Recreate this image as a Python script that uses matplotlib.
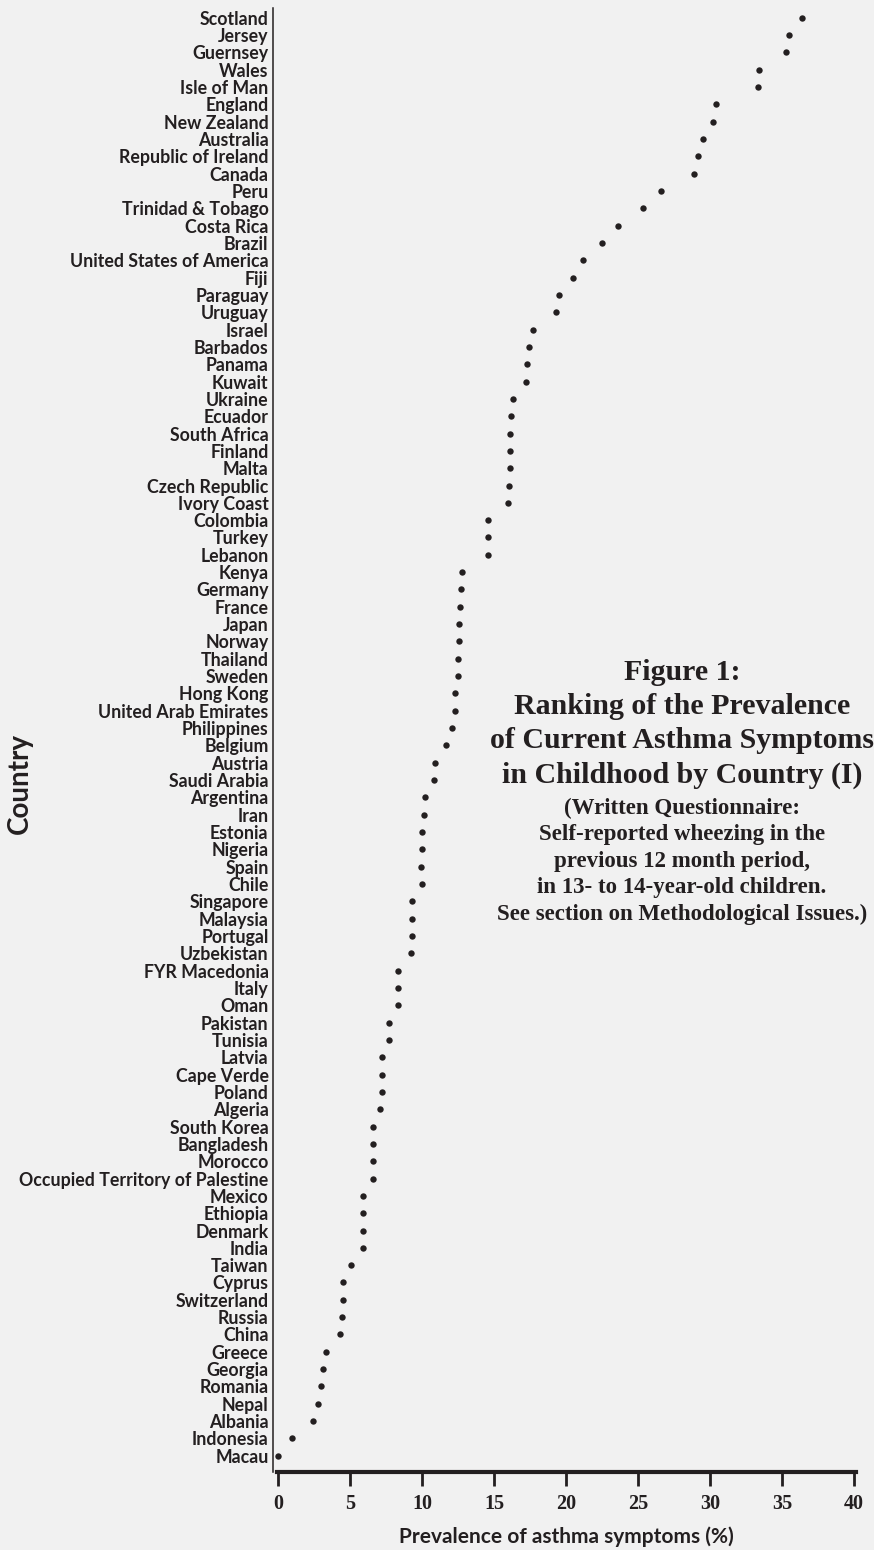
from matplotlib import pyplot as plt

countries = [
    'Scotland', 'Jersey', 'Guernsey', 'Wales', 'Isle of Man', 'England',
    'New Zealand', 'Australia', 'Republic of Ireland', 'Canada', 'Peru',
    'Trinidad & Tobago', 'Costa Rica', 'Brazil', 'United States of America',
    'Fiji', 'Paraguay', 'Uruguay', 'Israel', 'Barbados', 'Panama', 'Kuwait',
    'Ukraine', 'Ecuador', 'South Africa', 'Finland', 'Malta', 'Czech Republic',
    'Ivory Coast', 'Colombia', 'Turkey', 'Lebanon', 'Kenya', 'Germany',
    'France', 'Japan', 'Norway', 'Thailand', 'Sweden', 'Hong Kong',
    'United Arab Emirates', 'Philippines', 'Belgium', 'Austria',
    'Saudi Arabia', 'Argentina', 'Iran', 'Estonia', 'Nigeria', 'Spain',
    'Chile', 'Singapore', 'Malaysia', 'Portugal', 'Uzbekistan',
    'FYR Macedonia', 'Italy', 'Oman', 'Pakistan', 'Tunisia', 'Latvia',
    'Cape Verde', 'Poland', 'Algeria', 'South Korea', 'Bangladesh',
    'Morocco', 'Occupied Territory of Palestine', 'Mexico', 'Ethiopia',
    'Denmark', 'India', 'Taiwan', 'Cyprus', 'Switzerland', 'Russia', 'China',
    'Greece', 'Georgia', 'Romania', 'Nepal', 'Albania', 'Indonesia', 'Macau',
]

# % of 13-14 year olds with current wheeze
prevalence = [
    36.4, 35.5, 35.25, 33.4, 33.3, 30.4,
    30.2, 29.5, 29.2, 28.9, 26.6,
    25.35, 23.6, 22.5, 21.2,
    20.5, 19.5, 19.3, 17.7, 17.4, 17.3, 17.2,
    16.3, 16.2, 16.1, 16.1, 16.1, 16.05,
    15.95, 14.6, 14.6, 14.6, 12.8, 12.7,
    12.66, 12.6, 12.57, 12.5, 12.5, 12.3,
    12.3, 12.06, 11.7, 10.9,
    10.8, 10.2, 10.14, 10.0, 10.0, 9.95,
    10.0, 9.28, 9.28, 9.28, 9.24,
    8.3, 8.3, 8.3, 7.73, 7.73, 7.22,
    7.22, 7.22, 7.1, 6.6, 6.57,
    6.57, 6.57, 5.93, 5.88,
    5.88, 5.88, 5.1, 4.5, 4.5, 4.44, 4.3,
    3.3, 3.1, 3.0, 2.8, 2.45, 1.0, 0.0,
]

xticks = [0, 5, 10, 15, 20, 25, 30, 35, 40]

title_lines = [
    'Figure 1:',
    'Ranking of the Prevalence',
    'of Current Asthma Symptoms',
    'in Childhood by Country (I)',
]
note_lines = [
    '(Written Questionnaire:',
    'Self-reported wheezing in the',
    'previous 12 month period,',
    'in 13- to 14-year-old children.',
    'See section on Methodological Issues.)',
]

SANS = ['Lato', 'DejaVu Sans']
SERIF = ['Liberation Serif', 'DejaVu Serif']
BG = '#f1f1f1'
INK = '#231f20'


def main() -> None:
    fig = plt.figure(figsize=(8.74, 15.5), dpi=100, facecolor=BG)
    ax = fig.add_axes([0.312, 0.0503, 0.6684, 0.9443], facecolor=BG)

    n = len(countries)
    ypos = list(range(n - 1, -1, -1))
    ax.plot(prevalence, ypos, 'o', ms=4.6, color=INK, mec='none')

    ax.set_xlim(-0.37, 40.2)
    ax.set_ylim(-0.94, n - 1 + 0.54)

    ax.set_yticks(ypos)
    ax.set_yticklabels(countries, family=SANS, weight='bold',
                       fontsize=12.8, color=INK)
    ax.tick_params(axis='y', length=0, pad=3)

    ax.set_xticks(xticks)
    ax.set_xticklabels([str(t) for t in xticks], family=SERIF,
                       weight='bold', fontsize=14.5, color=INK)
    ax.tick_params(axis='x', length=10, width=2, color=INK, pad=6)

    ax.spines['top'].set_visible(False)
    ax.spines['right'].set_visible(False)
    ax.spines['left'].set_linewidth(1.1)
    ax.spines['left'].set_color(INK)
    ax.spines['bottom'].set_linewidth(3)
    ax.spines['bottom'].set_color(INK)
    ax.spines['bottom'].set_bounds(-0.1, 40.15)

    fig.text(566 / 874, 1 - 1537 / 1550, 'Prevalence of asthma symptoms (%)',
             ha='center', va='center', family=SANS, weight='bold',
             fontsize=15, color=INK)
    fig.text(20 / 874, 1 - 783 / 1550, 'Country', rotation=90,
             ha='center', va='center', family=SANS, weight='bold',
             fontsize=20, color=INK)

    cx = 682 / 874
    for i, line in enumerate(title_lines):
        fig.text(cx, 1 - (673 + 34 * i) / 1550, line, ha='center',
                 va='center', family=SERIF, weight='bold', fontsize=21.5,
                 color=INK)
    for i, line in enumerate(note_lines):
        fig.text(cx, 1 - (808 + 26.5 * i) / 1550, line, ha='center',
                 va='center', family=SERIF, weight='bold', fontsize=16.5,
                 color=INK)

    fig.savefig('out.png', dpi=100, facecolor=BG)


if __name__ == '__main__':
    main()
